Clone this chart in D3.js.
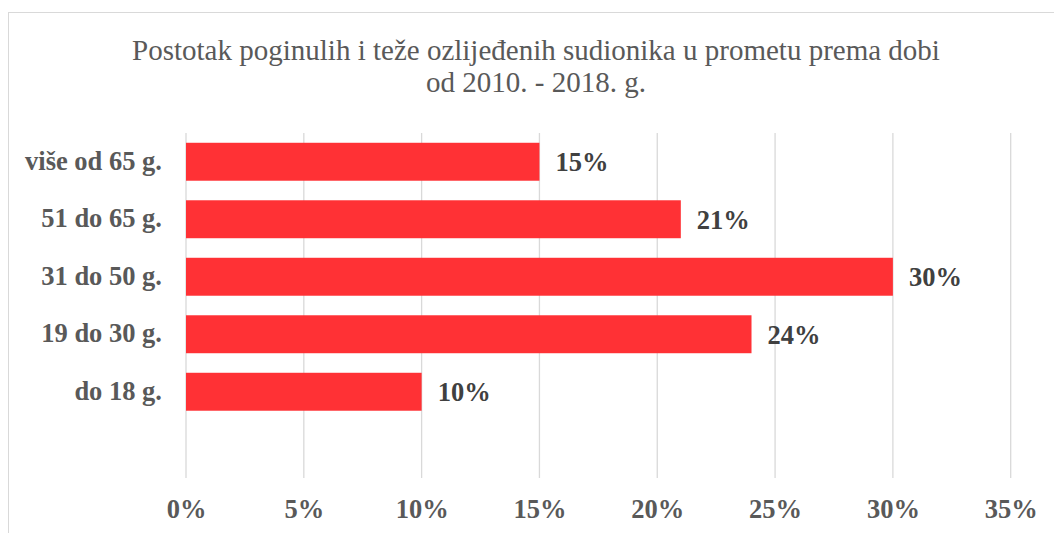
<!DOCTYPE html>
<html>
<head>
<meta charset="utf-8">
<script src="https://cdn.jsdelivr.net/npm/d3@7"></script>
<style>
  body { margin: 0; background: #fff; }
  svg { display: block; }
</style>
</head>
<body>
<svg id="chart" width="1054" height="533"></svg>
<script>
const categories = ['više od 65 g.', '51 do 65 g.', '31 do 50 g.', '19 do 30 g.', 'do 18 g.']
const values = [15, 21, 30, 24, 10]
const tickValues = [0, 5, 10, 15, 20, 25, 30, 35]
const titleLines = ['Postotak poginulih i teže ozlijeđenih sudionika u prometu prema dobi', 'od 2010. - 2018. g.']

const svg = d3.select('#chart')
const serif = '"Liberation Serif", "Times New Roman", serif'
const boldSize = '26.5px'

// chart frame (cut off at right and bottom like the source)
svg.append('rect')
    .attr('x', 8.5).attr('y', 12.5)
    .attr('width', 1100).attr('height', 600)
    .attr('fill', 'none')
    .style('stroke', '#d9d9d9')

const plotTop = 133
const plotBottom = 478
const step = (plotBottom - plotTop) / 6

const x = d3.scaleLinear()
    .domain([0, 35])
    .range([186, 1010.7])

const y = d3.scaleBand()
    .domain(categories)
    .range([plotTop, plotTop + step * categories.length])
    .paddingInner(0.34)
    .paddingOuter(0.17)

// gridlines
svg.append('g')
    .selectAll('line')
    .data(tickValues)
    .join('line')
    .attr('x1', d => x(d)).attr('x2', d => x(d))
    .attr('y1', plotTop).attr('y2', plotBottom)
    .style('stroke', '#d9d9d9')
    .style('stroke-width', 1.3)

// bars
svg.append('g')
    .selectAll('rect')
    .data(values)
    .join('rect')
    .attr('x', x(0))
    .attr('y', (d, i) => y(categories[i]))
    .attr('width', d => x(d) - x(0))
    .attr('height', y.bandwidth())
    .attr('fill', '#ff3135')

// data labels
svg.append('g')
    .selectAll('text')
    .data(values)
    .join('text')
    .attr('x', d => x(d) + 16)
    .attr('y', (d, i) => y(categories[i]) + y.bandwidth() / 2)
    .attr('dy', '0.35em')
    .style('font-family', serif)
    .style('font-weight', 'bold')
    .style('font-size', boldSize)
    .style('fill', '#404040')
    .text(d => d + '%')

// category axis labels
svg.append('g')
    .selectAll('text')
    .data(categories)
    .join('text')
    .attr('x', 162)
    .attr('y', d => y(d) + y.bandwidth() / 2)
    .attr('dy', '0.3em')
    .attr('text-anchor', 'end')
    .style('font-family', serif)
    .style('font-weight', 'bold')
    .style('font-size', boldSize)
    .style('fill', '#595959')
    .text(d => d)

// value axis
const xAxis = svg.append('g')
    .attr('transform', `translate(0, ${plotBottom})`)
    .call(d3.axisBottom(x).tickValues(tickValues).tickSize(0).tickFormat(d => d + '%'))
xAxis.select('.domain').remove()
xAxis.selectAll('text')
    .attr('y', 40)
    .attr('dy', 0)
    .style('font-family', serif)
    .style('font-weight', 'bold')
    .style('font-size', boldSize)
    .style('fill', '#595959')

// title
svg.append('text')
    .attr('text-anchor', 'middle')
    .style('font-family', serif)
    .style('font-size', '29px')
    .style('fill', '#595959')
    .selectAll('tspan')
    .data(titleLines)
    .join('tspan')
    .attr('x', 536)
    .attr('y', (d, i) => 60 + i * 32)
    .text(d => d)
</script>
</body>
</html>
